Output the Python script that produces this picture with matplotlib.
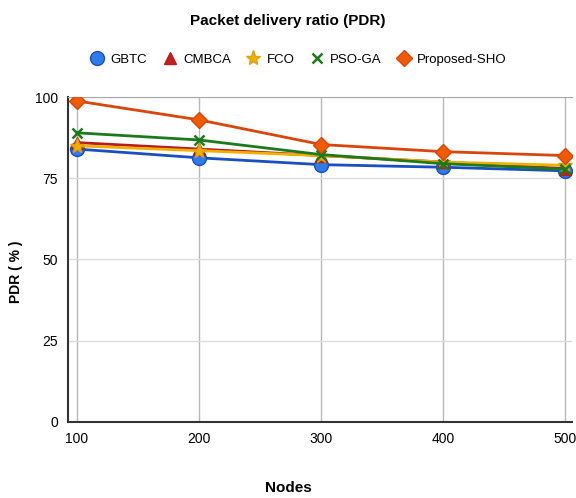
import matplotlib
matplotlib.use("Agg")
import matplotlib.pyplot as plt
from matplotlib import font_manager

nodes = [100, 200, 300, 400, 500]
gbtc = [84, 81.3, 79.2, 78.4, 77.3]
cmbca = [86, 84, 82, 80, 78]
fco = [85, 83.5, 82, 80, 79]
pso_ga = [89, 86.8, 82.3, 79.5, 77.8]
proposed = [98.8, 93, 85.4, 83.2, 82]

yticks = [0, 25, 50, 75, 100]

# narrow font for ticks if there is one
names = set(f.name for f in font_manager.fontManager.ttflist)
if 'Liberation Sans Narrow' in names:
    tick_font, tick_size = 'Liberation Sans Narrow', 12
else:
    tick_font, tick_size = 'Liberation Sans', 10

fig = plt.figure(figsize=(5.76, 4.98), dpi=100)
ax = fig.add_axes([0.118, 0.153, 0.875, 0.652])

ax.plot(nodes, gbtc, color='#1a4fc0', lw=2, marker='o', ms=10,
        mfc='#2f7be8', mec='#1a4fc0', label='GBTC', zorder=3)
ax.plot(nodes, cmbca, color='#b81c1c', lw=2, marker='^', ms=8,
        mfc='#c0201e', mec='#b81c1c', label='CMBCA', zorder=3)
ax.plot(nodes, fco, color='#f0b000', lw=2, marker='*', ms=11,
        mfc='#f0b000', mec='#e0a000', label='FCO', zorder=3)
ax.plot(nodes, pso_ga, color='#1c7a1c', lw=2, marker='x', ms=7, mew=1.8,
        label='PSO-GA', zorder=3)
ax.plot(nodes, proposed, color='#d8460c', lw=2, marker='D', ms=8,
        mfc='#f05a00', mec='#d8460c', label='Proposed-SHO', zorder=3)

ax.set_xlim(92.6, 505.7)
ax.set_ylim(0, 100)
ax.set_xticks(nodes)
ax.set_yticks(yticks)
ax.grid(axis='x', color='#b8b8b8', lw=1)
ax.grid(axis='y', color='#dcdcdc', lw=1)
ax.set_axisbelow(True)

ax.spines['right'].set_visible(False)
ax.spines['top'].set_color('#a8a8a8')
ax.spines['left'].set_color('#333333')
ax.spines['bottom'].set_color('#333333')
ax.spines['left'].set_linewidth(1.5)
ax.spines['bottom'].set_linewidth(1.5)
ax.tick_params(length=0, labelsize=tick_size, pad=7)
for lab in ax.get_xticklabels() + ax.get_yticklabels():
    lab.set_family(tick_font)

fig.text(0.5, 0.02, 'Nodes', ha='center', va='center', fontsize=11,
         fontweight='bold', family=tick_font)
fig.text(0.028, 0.454, 'PDR ( % )', ha='center', va='center', rotation=90,
         fontsize=10, fontweight='bold', family='Liberation Sans')

fig.text(0.5, 0.958, 'Packet delivery ratio (PDR)', ha='center', va='center',
         fontsize=11, fontweight='bold', family='Liberation Sans')
handles, labels = ax.get_legend_handles_labels()
leg = fig.legend(handles, labels, loc='center', bbox_to_anchor=(0.52, 0.88),
                 ncol=5, frameon=False, handlelength=0.8, handletextpad=0.6,
                 columnspacing=1.3, prop={'family': 'Liberation Sans', 'size': 9.5})
for h in leg.legend_handles:
    h.set_linestyle('none')

fig.savefig('out.png', dpi=100)
